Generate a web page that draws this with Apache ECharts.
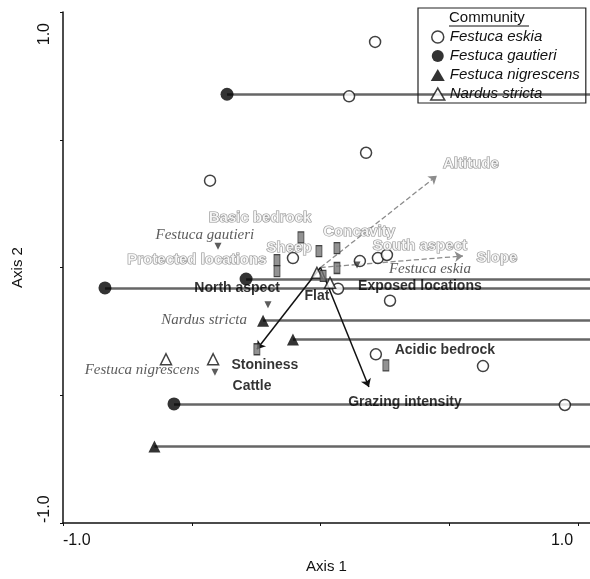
<!DOCTYPE html>
<html><head><meta charset="utf-8">
<script src="https://cdn.jsdelivr.net/npm/echarts@6/dist/echarts.min.js"></script>
<style>html,body{margin:0;padding:0;background:#fff}#c{width:590px;height:579px}</style>
</head><body><div id="c"></div>
<script>
// ---- data (ordination scores) ----
const groupNames = ['Festuca eskia', 'Festuca gautieri', 'Festuca nigrescens', 'Nardus stricta'];
const eskiaPts = [[0.212,0.883],[0.111,0.670],[0.177,0.449],[-0.429,0.340],[-0.107,0.037],[0.153,0.025],
  [0.223,0.037],[0.258,0.049],[0.068,-0.083],[0.270,-0.130],[0.215,-0.340],[0.631,-0.386],[0.949,-0.538]];
const gautieriPts = [[-0.363,0.678],[-0.289,-0.045],[-0.837,-0.080],[-0.569,-0.534]];
const nigrescensPts = [[-0.223,-0.208],[-0.107,-0.282],[-0.645,-0.701]];
const nardusPts = [[-0.600,-0.359],[-0.417,-0.359],[-0.014,-0.021],[0.037,-0.060]];

const speciesNames = ['Festuca gautieri','Nardus stricta','Festuca nigrescens','Festuca eskia'];
const speciesPts = [[-0.398,0.083],[-0.204,-0.146],[-0.410,-0.410],[0.142,0.010]];
const speciesLabelPos = [[-0.449,0.126],[-0.452,-0.204],[-0.693,-0.402],[0.425,-0.006]];

const centroidNames = ['Basic bedrock','Sheep','Concavity','Protected locations','North aspect','South aspect','Flat','Stoniness','Acidic bedrock'];
const centroidPts = [[-0.076,0.118],[-0.006,0.064],[0.064,0.076],[-0.169,0.029],[-0.169,-0.014],[0.064,-0.002],[0.010,-0.033],[-0.247,-0.320],[0.254,-0.383]];

const arrowNames = ['Altitude','Slope','Stoniness','Grazing intensity'];
const arrowTips = [[0.452,0.359],[0.553,0.045],[-0.247,-0.320],[0.188,-0.468]];

const greyLabelNames = ['Altitude','Basic bedrock','Concavity','Sheep','South aspect','Slope','Protected locations'];
const greyLabelPos = [[0.584,0.406],[-0.235,0.196],[0.150,0.138],[-0.122,0.076],[0.386,0.083],[0.685,0.037],[-0.480,0.029]];
const blackLabelNames = ['North aspect','Flat','Exposed locations','Stoniness','Cattle','Acidic bedrock','Grazing intensity'];
const blackLabelPos = [[-0.324,-0.080],[-0.014,-0.111],[0.386,-0.072],[-0.216,-0.383],[-0.266,-0.464],[0.483,-0.324],[0.328,-0.526]];

const tickLabels = {'-1': '-1.0', '1': '1.0'};
const axisMin = -1, axisMaxY = 1, axisMaxX = 1 + 12/257.5;

// ---- chart ----
const chart = echarts.init(document.getElementById('c'));
const F = 'Liberation Sans, Arial, sans-serif';
const key = v => String(Math.round(v*1000)/1000);
const fmtY = v => {
  const k = key(v);
  if (!tickLabels[k]) return '';
  return k === '1' ? '{t|' + tickLabels[k] + '}' : tickLabels[k];
};
const fmtX = v => {
  const k = key(v);
  if (!tickLabels[k]) return '';
  return k === '1' ? '{r|' + tickLabels[k] + '}' : tickLabels[k];
};

function labelSeries(names, pos, style) {
  return {
    type: 'scatter', symbolSize: 0, silent: true, z: 5,
    data: names.map((n, i) => ({ name: n, value: pos[i] })),
    label: Object.assign({ show: true, position: 'inside', formatter: p => p.name }, style)
  };
}

const option = {
  animation: false,
  backgroundColor: '#fff',
  grid: { left: 63, right: 0, top: 12, bottom: 52 },
  xAxis: {
    type: 'value', min: axisMin, max: axisMaxX, interval: 0.5,
    name: 'Axis 1', nameLocation: 'middle', nameGap: 36,
    nameTextStyle: { fontFamily: F, fontSize: 15, color: '#111' },
    splitLine: { show: false },
    axisLine: { onZero: false, lineStyle: { color: '#111', width: 1.5 } },
    axisTick: { length: 3, lineStyle: { color: '#111' } },
    axisLabel: { formatter: fmtX, fontFamily: F, fontSize: 16, color: '#111', margin: 10,
      alignMinLabel: 'left', showMaxLabel: false,
      rich: { r: { fontFamily: F, fontSize: 16, color: '#111', padding: [0, 32, 0, 0] } } }
  },
  yAxis: {
    type: 'value', min: axisMin, max: axisMaxY, interval: 0.5,
    name: 'Axis 2', nameLocation: 'middle', nameGap: 38, nameRotate: 90,
    nameTextStyle: { fontFamily: F, fontSize: 15, color: '#111' },
    splitLine: { show: false },
    axisLine: { onZero: false, lineStyle: { color: '#111', width: 1.5 } },
    axisTick: { length: 3, lineStyle: { color: '#111' } },
    axisLabel: { formatter: fmtY, fontFamily: F, fontSize: 16, color: '#111', margin: 10, rotate: 90,
      alignMinLabel: 'left', alignMaxLabel: 'right',
      rich: { t: { fontFamily: F, fontSize: 16, color: '#111', padding: [0, 11, 0, 0] } } }
  },
  legend: {
    left: 418, top: 8, orient: 'vertical',
    padding: [21, 6, 1, 12], itemGap: 3, itemWidth: 14, itemHeight: 12,
    borderColor: '#222', borderWidth: 1.2,
    textStyle: { fontFamily: F, fontSize: 15, fontStyle: 'italic', color: '#111', lineHeight: 16 },
    data: [
      { name: groupNames[0], icon: 'circle', itemStyle: { color: '#fff', borderColor: '#111', borderWidth: 1.5 } },
      { name: groupNames[1], icon: 'circle', itemStyle: { color: '#000' } },
      { name: groupNames[2], icon: 'triangle', itemStyle: { color: '#000' } },
      { name: groupNames[3], icon: 'triangle', itemStyle: { color: '#fff', borderColor: '#111', borderWidth: 1.5 } }
    ]
  },
  graphic: [
    { type: 'text', left: 449, top: 10, style: { text: 'Community', font: '15px ' + F, fill: '#111' } },
    { type: 'line', shape: { x1: 449, y1: 26, x2: 529, y2: 26 }, style: { stroke: '#111', lineWidth: 1 } }
  ],
  series: [
    // horizontal trails
    {
      type: 'lines', coordinateSystem: 'cartesian2d', silent: true, z: 1,
      lineStyle: { color: '#666', width: 2.5, opacity: 1 },
      data: gautieriPts.concat(nigrescensPts).map(p => ({ coords: [[p[0], p[1]], [axisMaxX, p[1]]] }))
    },
    // arrows
    {
      type: 'lines', coordinateSystem: 'cartesian2d', silent: true, z: 3,
      symbol: ['none', 'arrow'], symbolSize: 8,
      data: arrowTips.map((t, i) => ({
        coords: [[0, 0], t],
        lineStyle: i < 2 ? { color: '#8c8c8c', width: 1.3, type: 'dashed', opacity: 1 } : { color: '#111', width: 1.5, opacity: 1 }
      }))
    },
    { name: groupNames[0], type: 'scatter', z: 4, symbol: 'circle', symbolSize: 11,
      itemStyle: { color: '#fff', borderColor: '#111', borderWidth: 1.5 }, data: eskiaPts },
    { name: groupNames[1], type: 'scatter', z: 4, symbol: 'circle', symbolSize: 13,
      itemStyle: { color: '#000' }, data: gautieriPts },
    { name: groupNames[2], type: 'scatter', z: 4, symbol: 'triangle', symbolSize: 12,
      itemStyle: { color: '#000' }, data: nigrescensPts },
    { name: groupNames[3], type: 'scatter', z: 4, symbol: 'triangle', symbolSize: 11,
      itemStyle: { color: '#fff', borderColor: '#111', borderWidth: 1.5 }, data: nardusPts },
    // species centroids
    { type: 'scatter', z: 4, symbol: 'triangle', symbolRotate: 180, symbolSize: 7, silent: true,
      itemStyle: { color: '#333' }, data: speciesPts },
    // nominal variable centroids
    { type: 'scatter', z: 4, symbol: 'rect', symbolSize: [6, 11], silent: true,
      itemStyle: { color: '#777', borderColor: '#222', borderWidth: 1 }, data: centroidPts },
    labelSeries(speciesNames, speciesLabelPos, { fontFamily: 'Liberation Serif, Times New Roman, serif', fontStyle: 'italic', fontSize: 15, color: '#333' }),
    labelSeries(greyLabelNames, greyLabelPos, { fontFamily: F, fontSize: 15, fontWeight: 'bold', color: '#fff', textBorderColor: '#777', textBorderWidth: 1.2 }),
    labelSeries(blackLabelNames, blackLabelPos, { fontFamily: F, fontSize: 14, fontWeight: 'bold', color: '#000' })
  ]
};
chart.setOption(option);
</script></body></html>
